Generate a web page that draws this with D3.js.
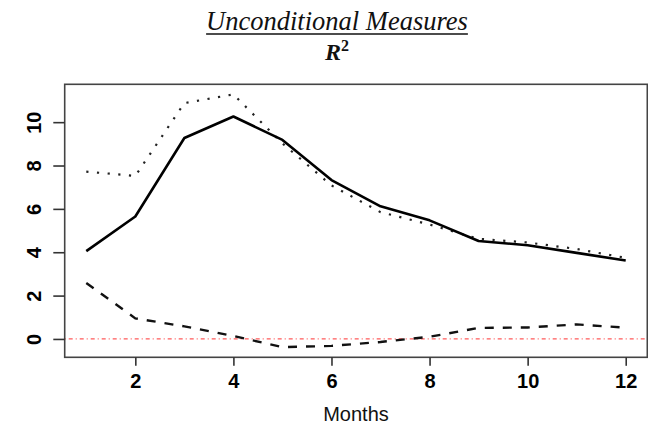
<!DOCTYPE html>
<html>
<head>
<meta charset="utf-8">
<script src="https://cdn.jsdelivr.net/npm/d3@7"></script>
<style>
  html, body { margin: 0; padding: 0; background: #fff; }
  svg { display: block; }
</style>
</head>
<body>
<script>
// Forecast horizon in months
const months = [1, 2, 3, 4, 5, 6, 7, 8, 9, 10, 11, 12];

// R^2 series (percent)
const solidSeries  = [4.05, 5.65, 9.27, 10.26, 9.18, 7.33, 6.12, 5.47, 4.52, 4.32, 3.97, 3.62];
const dottedSeries = [7.72, 7.52, 10.88, 11.28, 9.02, 7.08, 5.85, 5.28, 4.62, 4.45, 4.15, 3.74];
const dashedSeries = [2.58, 0.95, 0.58, 0.14, -0.38, -0.32, -0.14, 0.1, 0.51, 0.53, 0.67, 0.52];

// Axis ticks
const xTicks = [2, 4, 6, 8, 10, 12];
const yTicks = [0, 2, 4, 6, 8, 10];
const refLevel = 0;

const W = 648, H = 427;
const box = { left: 64.7, right: 647.3, top: 84.3, bottom: 357.3 };

const svg = d3.select("body").append("svg")
  .attr("width", W).attr("height", H);

// R-style 4% padding around the data range
function padded(ext) {
  const d = (ext[1] - ext[0]) * 0.04;
  return [ext[0] - d, ext[1] + d];
}

const x = d3.scaleLinear()
  .domain(padded(d3.extent(months)))
  .range([box.left, box.right]);

const allY = solidSeries.concat(dottedSeries, dashedSeries);
const y = d3.scaleLinear()
  .domain(padded(d3.extent(allY)))
  .range([box.bottom, box.top]);

// Title block
const title = svg.append("text")
  .attr("x", 337).attr("y", 30)
  .attr("text-anchor", "middle")
  .style("font-family", "'Liberation Serif', 'Times New Roman', serif")
  .style("font-style", "italic")
  .style("font-size", "26.5px")
  .attr("fill", "#111")
  .text("Unconditional Measures");
const tb = title.node().getBBox();
svg.append("line")
  .attr("x1", tb.x).attr("x2", tb.x + tb.width)
  .attr("y1", 34).attr("y2", 34)
  .attr("stroke", "#111").attr("stroke-width", 1.6);

const sub = svg.append("text")
  .attr("x", 337).attr("y", 60)
  .attr("text-anchor", "middle")
  .style("font-family", "'Liberation Serif', 'Times New Roman', serif")
  .attr("fill", "#111");
sub.append("tspan")
  .style("font-style", "italic").style("font-weight", "bold").style("font-size", "24px")
  .text("R");
sub.append("tspan")
  .attr("dy", -9)
  .style("font-size", "16px").style("font-weight", "bold")
  .text("2");

// Reference line at zero
svg.append("line")
  .attr("x1", box.left).attr("x2", box.right)
  .attr("y1", y(refLevel)).attr("y2", y(refLevel))
  .attr("stroke", "#ff5a5a").attr("stroke-width", 1.3)
  .attr("stroke-dasharray", "1,3,4,3");

// Series lines
const line = d3.line().x((d, i) => x(months[i])).y(d => y(d));

svg.append("path").datum(dottedSeries)
  .attr("d", line).attr("fill", "none")
  .attr("stroke", "#222").attr("stroke-width", 2.2)
  .attr("stroke-dasharray", "2.2,8.5");

svg.append("path").datum(dashedSeries)
  .attr("d", line).attr("fill", "none")
  .attr("stroke", "#111").attr("stroke-width", 2.4)
  .attr("stroke-dasharray", "9,9");

svg.append("path").datum(solidSeries)
  .attr("d", line).attr("fill", "none")
  .attr("stroke", "#000").attr("stroke-width", 2.6)
  .attr("stroke-linejoin", "round");

// Plot frame
svg.append("rect")
  .attr("x", box.left).attr("y", box.top)
  .attr("width", box.right - box.left).attr("height", box.bottom - box.top)
  .attr("fill", "none").attr("stroke", "#444").attr("stroke-width", 1.6);

const tickFont = "'Liberation Sans', Arial, sans-serif";

// Bottom axis
const gx = svg.append("g")
  .attr("transform", `translate(0,${box.bottom})`)
  .call(d3.axisBottom(x).tickValues(xTicks).tickSize(8.5).tickPadding(8).tickFormat(d3.format("d")));
gx.select(".domain").remove();
gx.selectAll(".tick line").attr("stroke", "#333").attr("stroke-width", 1.6);
gx.selectAll(".tick text")
  .attr("fill", "#000")
  .style("font-family", tickFont).style("font-weight", "bold").style("font-size", "20px");

// Left axis with labels turned sideways
const gy = svg.append("g")
  .attr("transform", `translate(${box.left},0)`)
  .call(d3.axisLeft(y).tickValues(yTicks).tickSize(11.4).tickFormat(d3.format("d")));
gy.select(".domain").remove();
gy.selectAll(".tick line").attr("stroke", "#333").attr("stroke-width", 1.6);
gy.selectAll(".tick text")
  .attr("x", null).attr("dy", null)
  .attr("text-anchor", "middle")
  .attr("transform", "translate(-24,0) rotate(-90)")
  .attr("fill", "#000")
  .style("font-family", tickFont).style("font-weight", "bold").style("font-size", "20px");

// Axis title
svg.append("text")
  .attr("x", (box.left + box.right) / 2).attr("y", 421)
  .attr("text-anchor", "middle")
  .style("font-family", tickFont).style("font-size", "20px")
  .attr("fill", "#111")
  .text("Months");
</script>
</body>
</html>
